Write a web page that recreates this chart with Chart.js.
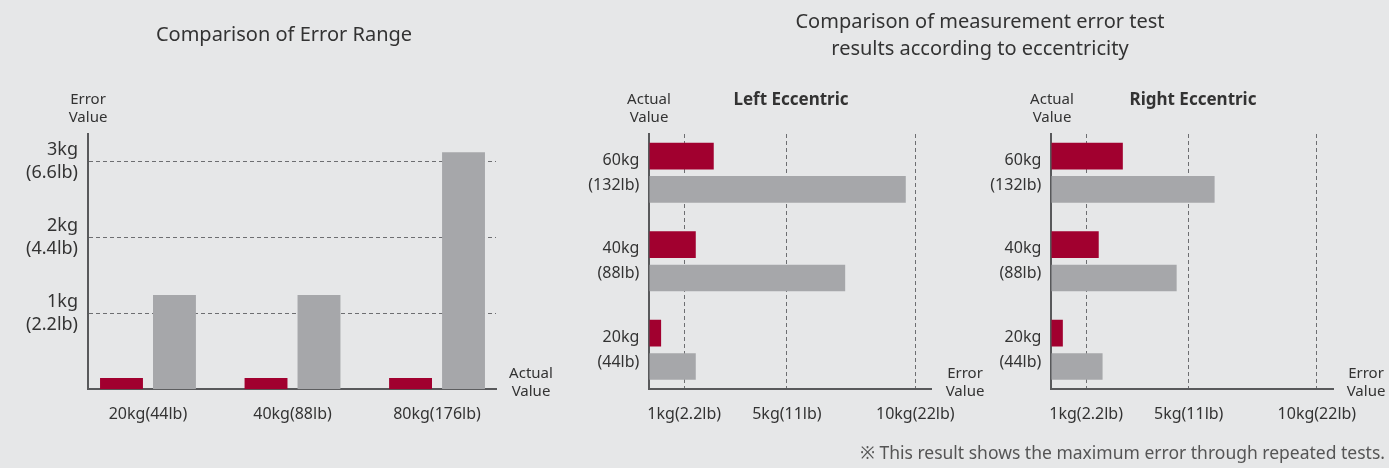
<!DOCTYPE html>
<html>
<head>
<meta charset="utf-8">
<script src="https://cdn.jsdelivr.net/npm/chart.js@4.4.1/dist/chart.umd.min.js"></script>
<style>
	html, body { margin: 0; padding: 0; }
	body {
		width: 1389px; height: 468px; position: relative; overflow: hidden;
		background: #e6e7e8; color: #333; font-family: "Noto Sans", sans-serif;
	}
	canvas { position: absolute; left: 0; top: 0; }
	.t { position: absolute; white-space: nowrap; text-align: center; transform: translate(-50%, -50%); }
	.title { font-size: 20px; line-height: 27px; }
	.sub { font-size: 17px; font-weight: bold; }
	.axis { font-size: 15px; line-height: 18px; color: #333; }
	.note { position: absolute; right: 4px; top: 440px; font-size: 17.5px; color: #555; white-space: nowrap; }
</style>
</head>
<body>
<canvas id="range" width="1389" height="468"></canvas>
<canvas id="leftEcc" width="1389" height="468"></canvas>
<canvas id="rightEcc" width="1389" height="468"></canvas>

<div class="t title" style="left:284px; top:33px;">Comparison of Error Range</div>
<div class="t title" style="left:980px; top:34px;">Comparison of measurement error test<br>results according to eccentricity</div>
<div class="t sub" style="left:791px; top:98px;">Left Eccentric</div>
<div class="t sub" style="left:1193px; top:98px;">Right Eccentric</div>

<div class="t axis" style="left:88px; top:107px;">Error<br>Value</div>
<div class="t axis" style="left:531px; top:381px;">Actual<br>Value</div>
<div class="t axis" style="left:649px; top:107px;">Actual<br>Value</div>
<div class="t axis" style="left:965px; top:381px;">Error<br>Value</div>
<div class="t axis" style="left:1052px; top:107px;">Actual<br>Value</div>
<div class="t axis" style="left:1366px; top:381px;">Error<br>Value</div>

<div class="note">※ This result shows the maximum error through repeated tests.</div>

<script>
const red = "#a1002f";
const gray = "#a6a7aa";
const axisColor = "#58595b";
const gridColor = "#6d6e71";

// Comparison of Error Range (kg)
const rangeCategories = ["20kg(44lb)", "40kg(88lb)", "80kg(176lb)"];
const rangeTickValues = [1, 2, 3];
const rangeTickLabels = [["1kg", "(2.2lb)"], ["2kg", "(4.4lb)"], ["3kg", "(6.6lb)"]];
const rangeRed = [0.15, 0.15, 0.15];
const rangeGray = [1.24, 1.24, 3.12];

// Eccentricity test (kg), categories bottom to top
const eccCategories = [["20kg", "(44lb)"], ["40kg", "(88lb)"], ["60kg", "(132lb)"]];
const eccTickValues = [1, 5, 10];
const eccTickLabels = ["1kg(2.2lb)", "5kg(11lb)", "10kg(22lb)"];
const leftEccRed = [0.10, 1.45, 2.15];
const leftEccGray = [1.45, 7.27, 9.63];
const rightEccRed = [0.09, 1.49, 2.43];
const rightEccGray = [1.64, 4.53, 6.01];

Chart.defaults.font.family = "'Noto Sans', sans-serif";
Chart.defaults.color = "#333";

const setTicks = (values) => (scale) => {
	scale.ticks = values.map((value) => ({ value }));
};

const rangeChart = new Chart(document.getElementById("range"), {
	type: "bar",
	data: {
		datasets: [
			{
				data: rangeRed.map((v, i) => ({ x: i, y: v })),
				backgroundColor: red,
				categoryPercentage: 0.733,
				barPercentage: 0.81,
			},
			{
				data: rangeGray.map((v, i) => ({ x: i, y: v })),
				backgroundColor: gray,
				categoryPercentage: 0.733,
				barPercentage: 0.81,
			},
		],
	},
	options: {
		responsive: false,
		animation: false,
		layout: { padding: { left: 0, top: 134, right: 893, bottom: 0 } },
		plugins: { legend: { display: false }, tooltip: { enabled: false } },
		scales: {
			x: {
				type: "linear",
				offset: false,
				min: -0.415,
				max: 2.408,
				afterBuildTicks: setTicks([0, 1, 2]),
				afterFit: (scale) => { scale.height = 78.7; },
				grid: { display: false, offset: false, drawTicks: false },
				border: { display: true, color: axisColor, width: 2 },
				ticks: {
					padding: 16,
					font: { size: 16 },
					callback: (value) => rangeCategories[value],
				},
			},
			y: {
				min: 0,
				max: 3.36,
				afterBuildTicks: setTicks(rangeTickValues),
				afterFit: (scale) => { scale.width = 88; },
				grid: { color: gridColor, lineWidth: 1, drawTicks: false },
				border: { display: true, color: axisColor, width: 2, dash: [4, 3] },
				ticks: {
					padding: 10,
					font: { size: 18, lineHeight: 1.3 },
					callback: (value) => rangeTickLabels[rangeTickValues.indexOf(value)],
				},
			},
		},
	},
});

const eccChart = (id, redData, grayData, left, right) => new Chart(document.getElementById(id), {
	type: "bar",
	data: {
		datasets: [
			{
				data: redData.map((v, i) => ({ y: i, x: v })),
				backgroundColor: red,
				base: -0.36,
				categoryPercentage: 0.753,
				barPercentage: 0.8,
			},
			{
				data: grayData.map((v, i) => ({ y: i, x: v })),
				backgroundColor: gray,
				base: -0.36,
				categoryPercentage: 0.753,
				barPercentage: 0.8,
			},
		],
	},
	options: {
		indexAxis: "y",
		responsive: false,
		animation: false,
		layout: { padding: { left: left - 120, top: 134, right: 1389 - right, bottom: 0 } },
		plugins: { legend: { display: false }, tooltip: { enabled: false } },
		scales: {
			x: {
				type: "linear",
				min: -0.36,
				max: 10.64,
				afterBuildTicks: setTicks(eccTickValues),
				afterFit: (scale) => { scale.height = 78.7; },
				grid: { color: gridColor, lineWidth: 1, drawTicks: false },
				border: { display: true, color: axisColor, width: 2, dash: [4, 3] },
				ticks: {
					padding: 16,
					font: { size: 16 },
					callback: (value) => eccTickLabels[eccTickValues.indexOf(value)],
				},
			},
			y: {
				type: "linear",
				offset: false,
				min: -0.446,
				max: 2.438,
				afterBuildTicks: setTicks([0, 1, 2]),
				afterFit: (scale) => { scale.width = 120; },
				grid: { display: false, offset: false, drawTicks: false },
				border: { display: true, color: axisColor, width: 2 },
				ticks: {
					padding: 10,
					font: { size: 16, lineHeight: 1.56 },
					callback: (value) => eccCategories[value],
				},
			},
		},
	},
});

const leftEccChart = eccChart("leftEcc", leftEccRed, leftEccGray, 649.3, 931.7);
const rightEccChart = eccChart("rightEcc", rightEccRed, rightEccGray, 1051.3, 1333.3);
</script>
</body>
</html>
